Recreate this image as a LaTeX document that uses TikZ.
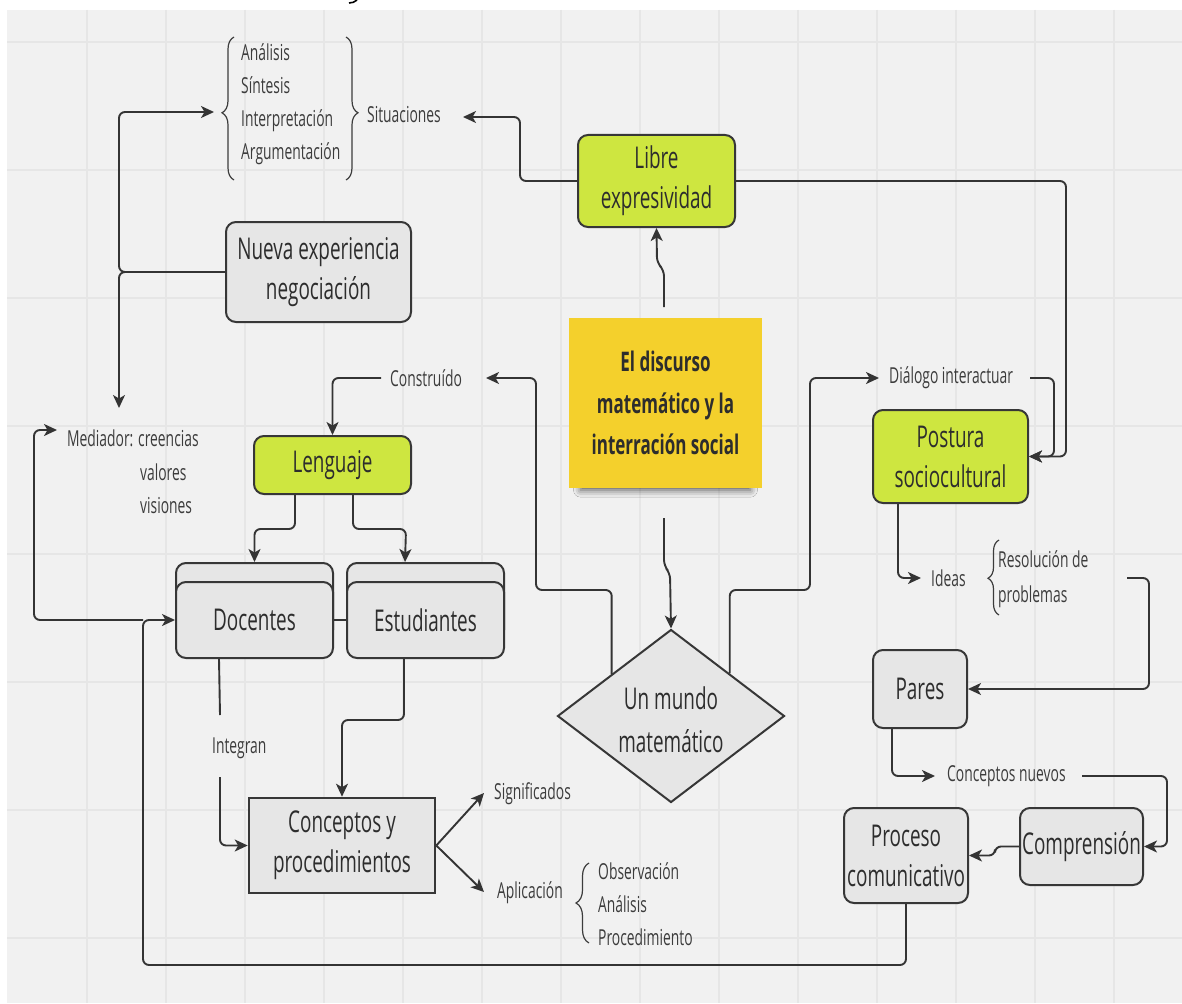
\documentclass[tikz,border=0pt]{standalone}
\usepackage{fontspec}
\setmainfont{Open Sans}[FakeStretch=0.63]
\usetikzlibrary{arrows.meta,shapes.geometric,shadows.blur,decorations.pathreplacing,calc}
\definecolor{canvas}{RGB}{241,241,241}
\definecolor{gridc}{RGB}{230,230,230}
\definecolor{linec}{RGB}{52,52,52}
\definecolor{boxline}{RGB}{55,55,55}
\definecolor{boxgrey}{RGB}{230,230,230}
\definecolor{lime}{RGB}{206,230,64}
\definecolor{sticky}{RGB}{244,208,44}
\definecolor{txt}{RGB}{45,45,45}
\definecolor{labc}{RGB}{60,60,60}
\newcommand\boxfont{\fontsize{30}{40}\selectfont}
\newcommand\labfont{\fontsize{22}{33}\selectfont}
\newcommand\notefont{\fontsize{27}{41.5}\selectfont\bfseries}

\begin{document}
\begin{tikzpicture}[x=1pt,y=-1pt,
  box/.style={draw=boxline,line width=2pt,fill=boxgrey,rounded corners=10pt,
              align=center,text=txt,font=\boxfont,inner sep=0pt},
  limebox/.style={box,fill=lime},
  lab/.style={anchor=west,align=left,text=labc,font=\labfont,inner sep=0pt},
  conn/.style={draw=linec,line width=1.9pt,rounded corners=6pt},
  flow/.style={conn,-{Stealth[length=13pt,width=12pt,inset=3.5pt]}},
  curly/.style={draw=labc,line width=1.2pt,decorate},
]
% canvas and grid
\useasboundingbox (0,0) rectangle (1182,1003);
\fill[white] (0,0) rectangle (1182,1003);
\fill[canvas] (7,10) rectangle (1182,1003);
\foreach \gx in {87,166,...,1114} \draw[gridc,line width=1.2pt] (\gx,10) -- (\gx,1003);
\foreach \gy in {42,170,...,938} \draw[gridc,line width=1.2pt] (7,\gy) -- (1182,\gy);
\draw[black,line width=1.6pt] (349,3) .. controls (352,3) and (355,2) .. (357,0);

% central sticky note
\node[fill=sticky,minimum width=193pt,minimum height=170pt,inner sep=0pt,align=center,
      font=\notefont,text=txt,
      blur shadow={shadow xshift=0pt,shadow yshift=-14pt,shadow blur radius=8pt,
                   shadow scale=0.88,shadow opacity=65}]
  (note) at (665.5,403) {El discurso\\matemático y la\\interración social};

% boxes
\node[limebox,minimum width=157pt,minimum height=92pt] (libre) at (656.5,181) {Libre\\expresividad};
\node[box,minimum width=185pt,minimum height=100pt] (nueva) at (318.5,272) {Nueva experiencia\\negociación};
\node[limebox,minimum width=155pt,minimum height=93pt] (postura) at (950.5,456.5) {Postura\\sociocultural};
\node[limebox,minimum width=157pt,minimum height=58pt] (lenguaje) at (332.5,465) {Lenguaje};
\node[box,minimum width=157pt,minimum height=77pt] (docentesB) at (254.5,601.5) {};
\node[box,minimum width=157pt,minimum height=77pt] (estudiantesB) at (425.5,601.5) {};
\node[box,minimum width=157pt,minimum height=76pt] (docentes) at (254.5,620) {Docentes};
\node[box,minimum width=157pt,minimum height=76pt] (estudiantes) at (425.5,620) {Estudiantes};
\node[box,rounded corners=0pt,line width=2.6pt,minimum width=186pt,minimum height=95pt]
  (conceptos) at (342,845.5) {Conceptos y\\procedimientos};
\node[diamond,draw=boxline,line width=2pt,fill=boxgrey,minimum width=227pt,
      minimum height=173pt,inner sep=0pt] (mundo) at (671,716) {};
\node[align=center,text=txt,inner sep=0pt,font=\fontsize{30}{43}\selectfont]
  (mundoTxt) at (671,720) {Un mundo\\matemático};
\node[box,minimum width=94pt,minimum height=78pt] (pares) at (920,689) {Pares};
\node[box,minimum width=123pt,minimum height=77pt] (comprension) at (1081.5,846.5) {Comprensión};
\node[box,minimum width=124pt,minimum height=95pt] (proceso) at (906,855.5) {Proceso\\comunicativo};

% labels
\node[lab] (list) at (241,104) {Análisis\\Síntesis\\Interpretación\\Argumentación};
\node[lab] (situ) at (367,115) {Situaciones};
\node[lab] (constr) at (390,378) {Construído};
\node[lab] (med) at (67,438) {Mediador: creencias};
\node[lab] (medb) at (140,488.5) {valores\\visiones};
\node[lab] (dialogo) at (889,378) {Diálogo interactuar};
\node[lab] (ideas) at (931,578) {Ideas};
\node[lab] (resol) at (998,579.5) {Resolución de\\[2pt]problemas};
\node[lab] (cnuevos) at (947,776) {Conceptos nuevos};
\node[lab] (integran) at (212,748) {Integran};
\node[lab] (signif) at (494,794) {Significados};
\node[lab] (aplic) at (497,893) {Aplicación};
\node[lab] (obs) at (598,904) {Observación\\Análisis\\Procedimiento};

% braces
\draw[curly,decoration={brace,amplitude=12pt,aspect=0.47}] (234,180) -- (234,37);
\draw[curly,decoration={brace,amplitude=12pt,aspect=0.53}] (346,37) -- (346,180);
\draw[curly,decoration={brace,amplitude=11pt,aspect=0.49}] (999,615) -- (999,540);
\draw[curly,decoration={brace,amplitude=13pt,aspect=0.5}] (589,943) -- (589,863);

% connector end points beside labels
\coordinate (situIn) at (463,117);
\coordinate (listIn) at (214,112);
\coordinate (medTop) at (119,408);
\coordinate (medIn) at (57,430);
\coordinate (noteTop) at (664,307);
\coordinate (noteBot) at (664,518);
\coordinate (constrIn) at (486,378);
\coordinate (constrOut) at (381,378);
\coordinate (dialIn) at (879,378);
\coordinate (dialOut) at (1030,378);
\coordinate (ideasIn) at (921,578);
\coordinate (resolOut) at (1127,578);
\coordinate (cnIn) at (935,776);
\coordinate (cnOut) at (1082,776);
\coordinate (loopA) at (143,620);
\coordinate (integA) at (220,715);
\coordinate (integB) at (220,777);
\coordinate (signifIn) at (484,793);
\coordinate (aplicIn) at (484,892);

% connectors
\draw[flow] (libre.west) -- (520,181) -- (520,117) -- (situIn);
\draw[flow] (nueva.west) -- (119,272) -- (119,112) -- (listIn);
\draw[flow] (nueva.west) -- (119,272) -- (medTop);
\draw[flow] (noteTop) -- (664,270) -- (657,263) -- (libre.south);
\draw[flow] (noteBot) -- (664,566) -- (670,573) -- (mundo.north);
\draw[flow] ($(mundo.north)!0.518!(mundo.west)$) |- (536,590) |- (constrIn);
\draw[flow] ($(mundo.north)!0.513!(mundo.east)$) |- (810,590) |- (dialIn);
\draw[flow] (dialOut) -- (1054,378) -- (1054,456.5) -- (postura.east);
\draw[flow] (libre.east) -| (1066,456.5) -- (postura.east);
\draw[flow] ($(postura.south west)+(26,0)$) |- (ideasIn);
\draw[flow] (resolOut) -| (1149,689) -- (pares.east);
\draw[flow] ($(pares.south west)+(20,0)$) |- (cnIn);
\draw[flow] (cnOut) -| (1167,846.5) -- (comprension.east);
\draw[flow] (comprension.west) -- (995,846.5) -- (995,855.5) -- (proceso.east);
\draw[flow] (proceso.south) |- (143,965) |- (docentes.west);
\draw[flow] (loopA) -| (34,430) -- (medIn);
\draw[flow] (constrOut) -| (lenguaje.north);
\draw[flow] ($(lenguaje.south west)+(42,0)$) |- (254.5,529) -- (docentesB.north);
\draw[flow] ($(lenguaje.south west)+(100,0)$) |- (406,529) -- ($(estudiantesB.north west)+(59,0)$);
\draw[conn] (docentes.east) -- (estudiantes.west);
\draw[conn] ($(docentes.south west)+(44,0)$) -- (integA);
\draw[flow] (integB) |- (conceptos.west);
\draw[flow] ($(estudiantes.south west)+(58,0)$) |- (342,720) -- (conceptos.north);
\draw[flow] (conceptos.east) -- (signifIn);
\draw[flow] (conceptos.east) -- (aplicIn);
\end{tikzpicture}
\end{document}
